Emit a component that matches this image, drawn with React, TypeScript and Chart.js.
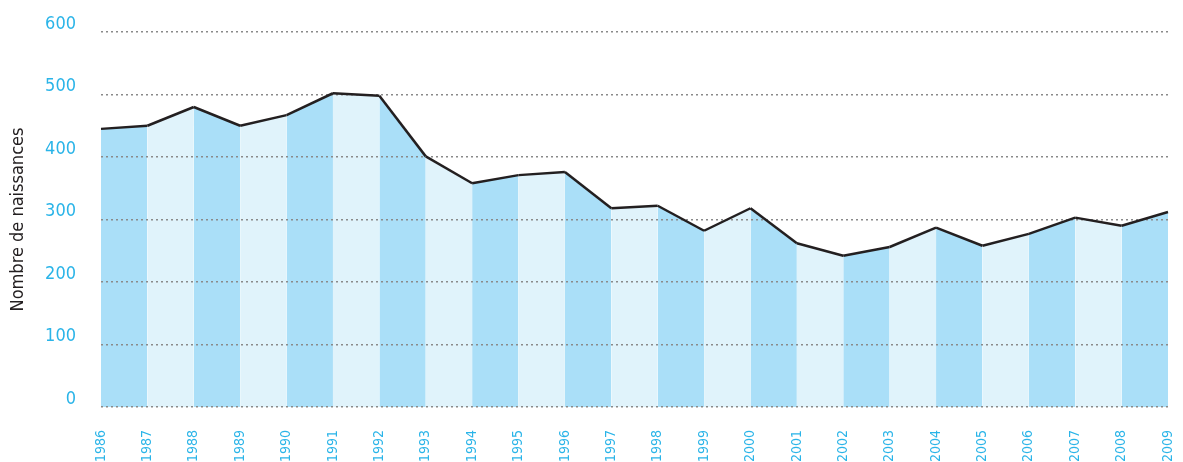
import React, { useEffect, useRef } from "react";
import { Chart, registerables } from "chart.js";

Chart.register(...registerables);

const years = [
  "1986", "1987", "1988", "1989", "1990", "1991", "1992", "1993", "1994", "1995", "1996", "1997",
  "1998", "1999", "2000", "2001", "2002", "2003", "2004", "2005", "2006", "2007", "2008", "2009",
];
const births = [
  445, 450, 480, 450, 467, 502, 498, 401, 358, 371, 376, 318,
  322, 282, 318, 262, 242, 256, 287, 258, 277, 303, 290, 312,
];
const yTicks = [0, 100, 200, 300, 400, 500, 600];
const yTitle = "Nombre de naissances";

const DARK = "#aadff8";
const LIGHT = "#e0f3fb";
const CYAN = "#2ab4e8";
const FONT = "'DejaVu Sans Condensed', 'Liberation Sans Narrow', sans-serif";

export default function App() {
  const ref = useRef<HTMLCanvasElement | null>(null);
  useEffect(() => {
    if (!ref.current) return;
    const chart = new Chart(ref.current, {
      type: "line",
      data: {
        labels: years,
        datasets: [
          {
            data: births,
            fill: "origin",
            backgroundColor: DARK,
            borderColor: "#231f20",
            borderWidth: 2.5,
            pointRadius: 0,
            tension: 0,
            segment: {
              backgroundColor: (ctx: any) => (ctx.p0DataIndex % 2 === 0 ? DARK : LIGHT),
            },
          } as any,
        ],
      },
      options: {
        animation: false,
        responsive: true,
        maintainAspectRatio: false,
        layout: { padding: { left: 0, right: 15, top: 32, bottom: 0 } },
        plugins: {
          legend: { display: false },
          tooltip: { enabled: false },
          filler: { drawTime: "beforeDraw" } as any,
        },
        scales: {
          x: {
            type: "category",
            offset: false,
            grid: { display: false, drawTicks: false },
            border: { display: false },
            ticks: {
              autoSkip: false,
              minRotation: 90,
              maxRotation: 90,
              color: CYAN,
              padding: 23,
              font: { family: FONT, size: 14 },
            },
            afterFit: (s: any) => {
              s.height = 73;
              s.paddingLeft = 0;
              s.paddingRight = 0;
            },
          },
          y: {
            min: 0,
            max: 600,
            afterBuildTicks: (s: any) => {
              s.ticks = yTicks.map((v) => ({ value: v }));
            },
            grid: { color: "#8a8a8a", lineWidth: 1.5, drawTicks: false },
            border: { display: false, dash: [2, 3] },
            ticks: {
              color: CYAN,
              padding: 25,
              labelOffset: -8,
              font: { family: FONT, size: 18 },
            },
            title: {
              display: true,
              text: yTitle,
              color: "#231f20",
              font: { family: FONT, size: 18 },
              padding: { top: 8, bottom: 0 },
            },
            afterFit: (s: any) => {
              s.width = 101;
              s.paddingTop = 0;
              s.paddingBottom = 0;
            },
          },
        },
      },
    });
    return () => chart.destroy();
  }, []);
  return (
    <div style={{ position: "fixed", left: 0, top: 0, width: 1183, height: 462, overflow: "hidden", background: "#fff" }}>
      <div style={{ position: "relative", width: 1183, height: 480 }}>
        <canvas ref={ref} />
      </div>
    </div>
  );
}
